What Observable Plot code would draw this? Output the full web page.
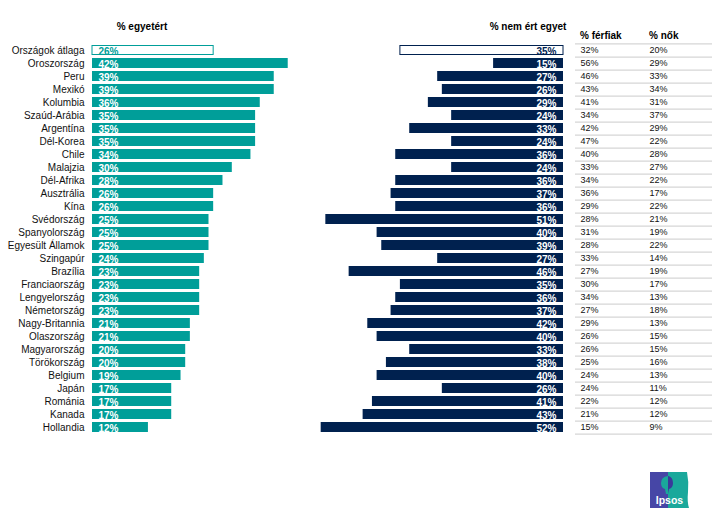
<!DOCTYPE html>
<html>
<head>
<meta charset="utf-8">
<script src="https://cdn.jsdelivr.net/npm/d3@7"></script>
<script src="https://cdn.jsdelivr.net/npm/@observablehq/plot@0.6"></script>
<style>
  html, body { margin: 0; padding: 0; background: #fff; overflow: hidden; }
  #wrap { position: relative; width: 718px; height: 523px; font-family: "Liberation Sans", Arial, sans-serif; }
  .hdr { position: absolute; font-size: 10px; font-weight: bold; color: #000; white-space: nowrap; line-height: 12px; }
  #chart { position: absolute; left: 0; top: 41px; }
  #logo { position: absolute; left: 650px; top: 472px; }
</style>
</head>
<body>
<div id="wrap">
  <div class="hdr" style="left:92px; width:100px; text-align:center; top:21px;">% egyetért</div>
  <div class="hdr" style="left:478px; width:100px; text-align:center; top:21px;">% nem ért egyet</div>
  <div class="hdr" style="left:580px; top:30px;">% férfiak</div>
  <div class="hdr" style="left:649px; top:30px;">% nők</div>
  <div id="chart"></div>
  <svg id="logo" width="39" height="36" viewBox="0 0 39 36">
    <path d="M0,0 H37 Q39,10 38,20 Q37,30 39,36 H0 Z" fill="#1aa89b"/>
    <rect x="0" y="0" width="18" height="36" fill="#4646a6"/>
    <path d="M18,4 Q11,5 11,11 Q11,16 15,17 L16,22 H18 Z" fill="#1aa89b"/>
    <path d="M18,4 Q23,5 23,11 Q23,16 19,17 L18,22 Z" fill="#3a3a9a"/>
    <text x="19.5" y="32" text-anchor="middle" font-family="Liberation Sans, Arial, sans-serif" font-weight="bold" font-size="10.5" fill="#fff">Ipsos</text>
  </svg>
</div>
<script>
const countries = ["Országok átlaga","Oroszország","Peru","Mexikó","Kolumbia","Szaúd-Arábia","Argentína","Dél-Korea","Chile","Malajzia","Dél-Afrika","Ausztrália","Kína","Svédország","Spanyolország","Egyesült Államok","Szingapúr","Brazília","Franciaország","Lengyelország","Németország","Nagy-Britannia","Olaszország","Magyarország","Törökország","Belgium","Japán","Románia","Kanada","Hollandia"];
const agree    = [26,42,39,39,36,35,35,35,34,30,28,26,26,25,25,25,24,23,23,23,23,21,21,20,20,19,17,17,17,12];
const disagree = [35,15,27,26,29,24,33,24,36,24,36,37,36,51,40,39,27,46,35,36,37,42,40,33,38,40,26,41,43,52];
const men      = [32,56,46,43,41,34,42,47,40,33,34,36,29,28,31,28,33,27,30,34,27,29,26,26,25,24,24,22,21,15];
const women    = [20,29,33,34,31,37,29,22,28,27,22,17,22,21,19,22,14,19,17,13,18,13,15,15,16,13,11,12,12,9];

const TEAL = "#009e99";
const NAVY = "#00214f";

const rows = countries.map((c, i) => ({country: c, agree: agree[i], disagree: disagree[i], men: men[i], women: women[i], avg: i === 0}));
const main = rows.filter(d => !d.avg);
const avgRow = rows.filter(d => d.avg);

// layout: one percent-unit = K pixels; left bars start at 92px, right bars end at 563px
const K = 4.66;
const px = p => (p - 92) / K;
const R = px(563);
const H = 395;
const step = H / countries.length;

const chart = Plot.plot({
  width: 718,
  height: H,
  margin: 0,
  x: {domain: [px(0), px(718)], axis: null},
  y: {domain: countries, axis: null, paddingInner: 0.26, paddingOuter: 0.13},
  style: {fontFamily: "Liberation Sans, Arial, sans-serif", fontSize: "10px", overflow: "visible", background: "white"},
  marks: [
    Plot.ruleY(rows, {y: "country", dy: step / 2, x1: px(575), x2: px(712), stroke: "#d6d6d6", strokeWidth: 1.2}),
    Plot.ruleY(avgRow, {y: "country", dy: -step / 2, x1: px(575), x2: px(712), stroke: "#d6d6d6", strokeWidth: 1.2}),
    Plot.barX(main, {y: "country", x1: 0, x2: "agree", fill: TEAL}),
    Plot.barX(avgRow, {y: "country", x1: 0, x2: "agree", fill: "white", stroke: TEAL, strokeWidth: 1, insetTop: 0.5, insetBottom: 0.5}),
    Plot.barX(main, {y: "country", x1: d => R - d.disagree, x2: R, fill: NAVY}),
    Plot.barX(avgRow, {y: "country", x1: d => R - d.disagree, x2: R, fill: "white", stroke: NAVY, strokeWidth: 1, insetTop: 0.5, insetBottom: 0.5}),
    Plot.text(rows, {y: "country", x: 0, dx: -8, text: "country", textAnchor: "end", fill: "#111"}),
    Plot.text(main, {y: "country", x: 0, dx: 6, dy: 1.5, text: d => d.agree + "%", textAnchor: "start", fill: "white", fontWeight: "bold"}),
    Plot.text(avgRow, {y: "country", x: 0, dx: 6, dy: 1.5, text: d => d.agree + "%", textAnchor: "start", fill: TEAL, fontWeight: "bold"}),
    Plot.text(main, {y: "country", x: R, dx: -7, dy: 1.5, text: d => d.disagree + "%", textAnchor: "end", fill: "white", fontWeight: "bold"}),
    Plot.text(avgRow, {y: "country", x: R, dx: -7, dy: 1.5, text: d => d.disagree + "%", textAnchor: "end", fill: NAVY, fontWeight: "bold"}),
    Plot.text(rows, {y: "country", x: px(580), text: d => d.men + "%", textAnchor: "start", fill: "#111", fontSize: 9}),
    Plot.text(rows, {y: "country", x: px(649), text: d => d.women + "%", textAnchor: "start", fill: "#111", fontSize: 9})
  ]
});
document.getElementById("chart").appendChild(chart);
</script>
</body>
</html>
